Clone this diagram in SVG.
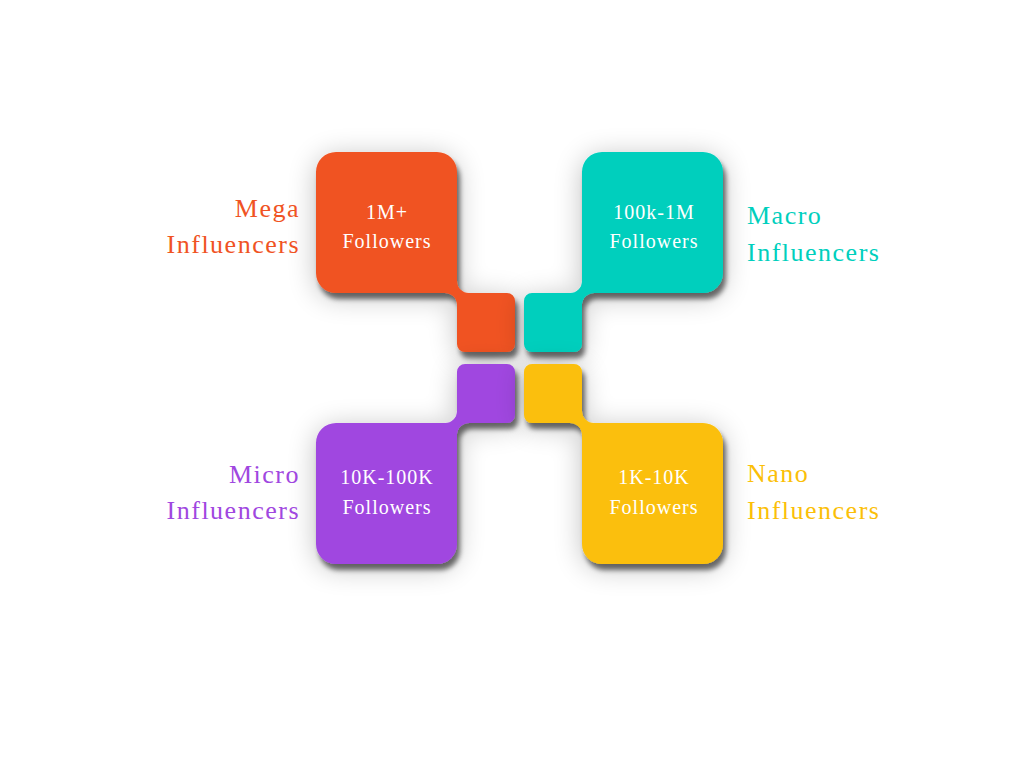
<svg xmlns="http://www.w3.org/2000/svg" width="1024" height="768" viewBox="0 0 1024 768">
<defs>
<filter id="sh" x="-30%" y="-30%" width="160%" height="160%">
<feGaussianBlur in="SourceAlpha" stdDeviation="14" result="b1"/>
<feOffset in="b1" dx="0" dy="4" result="o1"/>
<feComponentTransfer in="o1" result="s1"><feFuncA type="linear" slope="0.25"/></feComponentTransfer>
<feGaussianBlur in="SourceAlpha" stdDeviation="2.5" result="b2"/>
<feOffset in="b2" dx="3" dy="6" result="o2"/>
<feComponentTransfer in="o2" result="s2"><feFuncA type="linear" slope="0.55"/></feComponentTransfer>
<feMerge><feMergeNode in="s1"/><feMergeNode in="s2"/><feMergeNode in="SourceGraphic"/></feMerge>
</filter>
<path id="shape" d="M336,152 H437 A20,20 0 0 1 457,172 V281 A12,12 0 0 0 469,293 H507 A8,8 0 0 1 515,301 V344 A8,8 0 0 1 507,352 H465 A8,8 0 0 1 457,344 V305 A12,12 0 0 0 445,293 H336 A20,20 0 0 1 316,273 V172 A20,20 0 0 1 336,152 Z"/>
</defs>
<style>
.in{font-family:"Liberation Serif",serif;font-size:20px;fill:#fff;text-anchor:middle;letter-spacing:1px}
.lb{font-family:"Liberation Serif",serif;font-size:26px;letter-spacing:1.5px}
</style>
<rect width="1024" height="768" fill="#fff"/>
<g id="mega" filter="url(#sh)">
<use href="#shape" fill="#f05323"/>
</g>
<g id="macro" filter="url(#sh)">
<use href="#shape" fill="#00cfbd" transform="matrix(-1 0 0 1 1039 0)"/>
</g>
<g id="micro" filter="url(#sh)">
<use href="#shape" fill="#a047e0" transform="matrix(1 0 0 -1 0 716)"/>
</g>
<g id="nano" filter="url(#sh)">
<use href="#shape" fill="#fbbf08" transform="matrix(-1 0 0 -1 1039 716)"/>
</g>
<g id="texts">
<text class="in" x="387" y="219">1M+</text>
<text class="in" x="387" y="248">Followers</text>
<text class="in" x="654" y="219">100k-1M</text>
<text class="in" x="654" y="248">Followers</text>
<text class="in" x="387" y="484">10K-100K</text>
<text class="in" x="387" y="514">Followers</text>
<text class="in" x="654" y="484">1K-10K</text>
<text class="in" x="654" y="514">Followers</text>
<text class="lb" x="300" y="217" text-anchor="end" fill="#f05323">Mega</text>
<text class="lb" x="300" y="253" text-anchor="end" fill="#f05323">Influencers</text>
<text class="lb" x="747" y="224" fill="#00cfbd">Macro</text>
<text class="lb" x="747" y="261" fill="#00cfbd">Influencers</text>
<text class="lb" x="300" y="483" text-anchor="end" fill="#a047e0">Micro</text>
<text class="lb" x="300" y="519" text-anchor="end" fill="#a047e0">Influencers</text>
<text class="lb" x="747" y="482" fill="#fbbf08">Nano</text>
<text class="lb" x="747" y="519" fill="#fbbf08">Influencers</text>
</g>
</svg>
